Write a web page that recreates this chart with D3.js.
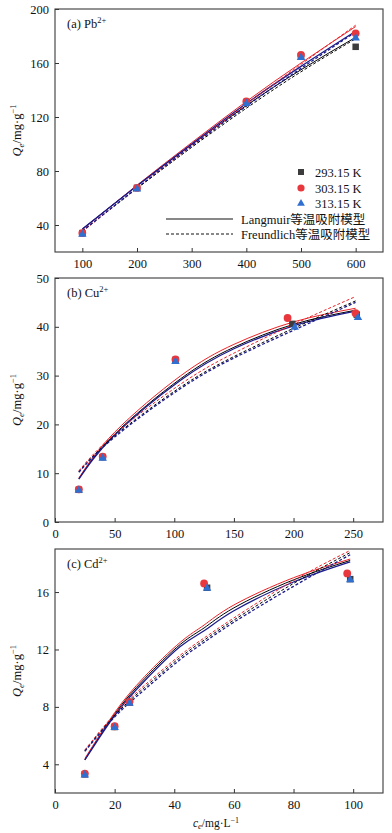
<!DOCTYPE html>
<html><head><meta charset="utf-8">
<script src="https://cdn.jsdelivr.net/npm/d3@7"></script>
<style>body{margin:0;background:#fff}</style>
</head><body><svg id="c" width="392" height="833"></svg>
<script>
// ---------- data ----------
const temps = ["293.15 K", "303.15 K", "313.15 K"];
const modelNames = ["Langmuir等温吸附模型", "Freundlich等温吸附模型"];
const panelLabels = ["(a) Pb", "(b) Cu", "(c) Cd"];

// Pb2+
const pbX = [50, 650], pbY = [20, 200];
const pbTicksX = [100, 200, 300, 400, 500, 600], pbTicksY = [40, 80, 120, 160, 200];
const pb293 = [[100,34],[200,67.5],[400,131],[500,165],[600,172]];
const pb303 = [[100,34],[200,67.5],[400,131.5],[500,166],[600,182]];
const pb313 = [[100,33.5],[200,67],[400,130.5],[500,164.5],[600,179]];
const pbFitX = [100, 200, 300, 400, 500, 600];
const pbL293 = [37, 69, 99.5, 128.5, 155, 179];
const pbL303 = [36.5, 69.5, 101, 131.5, 160, 187];
const pbL313 = [37, 69, 100, 130, 157.5, 183.5];
const pbF293 = [35.5, 67, 97.5, 126.5, 153.5, 178];
const pbF303 = [35, 67.5, 99, 129.5, 159, 188];
const pbF313 = [35.5, 67.5, 98.5, 128, 156, 183];

// Cu2+
const cuX = [0, 275], cuY = [0, 50];
const cuTicksX = [0, 50, 100, 150, 200, 250], cuTicksY = [0, 10, 20, 30, 40, 50];
const cu293 = [[20,6.6],[40,13.3],[101,33.2],[199,40.6],[253,42.5]];
const cu303 = [[20,6.7],[40,13.4],[101,33.3],[195,41.8],[252,42.8]];
const cu313 = [[20,6.6],[40,13.2],[101,33],[201,40],[254,42]];
const cuFitX = [20, 50, 105, 150, 200, 252];
const cuL293 = [8.9, 18, 29.3, 35.8, 40.5, 43.4];
const cuL303 = [9, 18.4, 29.9, 36.4, 41, 43.8];
const cuL313 = [8.8, 17.8, 29, 35.5, 40.2, 43.2];
const cuF293 = [10.3, 17.6, 27.6, 33.9, 39.7, 45.3];
const cuF303 = [10.5, 18, 28.2, 34.6, 40.5, 46.2];
const cuF313 = [10.2, 17.4, 27.3, 33.6, 39.3, 45];

// Cd2+
const cdX = [0, 110], cdY = [2, 19];
const cdTicksX = [0, 20, 40, 60, 80, 100], cdTicksY = [4, 8, 12, 16];
const cd293 = [[10,3.3],[20,6.6],[25,8.3],[51,16.3],[99,16.9]];
const cd303 = [[10,3.35],[20,6.65],[25,8.35],[50,16.6],[98,17.3]];
const cd313 = [[10,3.3],[20,6.6],[25,8.3],[51,16.3],[99,16.9]];
const cdFitX = [10, 20, 30, 42, 50, 60, 80, 99];
const cdL293 = [4.3, 7.5, 9.95, 12.35, 13.5, 14.9, 16.85, 18.2];
const cdL303 = [4.4, 7.6, 10.1, 12.5, 13.7, 15.1, 17.0, 18.3];
const cdL313 = [4.3, 7.4, 9.8, 12.2, 13.3, 14.7, 16.7, 18.1];
const cdF293 = [4.95, 7.4, 9.35, 11.45, 12.65, 14.05, 16.6, 18.75];
const cdF303 = [5.0, 7.5, 9.5, 11.6, 12.8, 14.2, 16.8, 18.9];
const cdF313 = [4.9, 7.3, 9.2, 11.3, 12.5, 13.9, 16.4, 18.6];

// ---------- styles ----------
const markerColors = ["#3c3c3c", "#e8383d", "#2f6fd0"];
const lineColors = ["#000000", "#ec2227", "#1b1b8c"];
const lineWidths = [1, 1, 1.3];
const serif = "'Liberation Serif','Times New Roman','Noto Sans CJK SC',serif";

const svg = d3.select("#c");
const L = 55, R = 383;

const panels = [
  {xd:pbX, yd:pbY, tx:pbTicksX, ty:pbTicksY, top:9, bottom:252,
   pts:[pb293,pb303,pb313], fx:pbFitX, Ls:[pbL293,pbL303,pbL313], Fs:[pbF293,pbF303,pbF313], label:panelLabels[0]},
  {xd:cuX, yd:cuY, tx:cuTicksX, ty:cuTicksY, top:278, bottom:522,
   pts:[cu293,cu303,cu313], fx:cuFitX, Ls:[cuL293,cuL303,cuL313], Fs:[cuF293,cuF303,cuF313], label:panelLabels[1]},
  {xd:cdX, yd:cdY, tx:cdTicksX, ty:cdTicksY, top:549, bottom:793,
   pts:[cd293,cd303,cd313], fx:cdFitX, Ls:[cdL293,cdL303,cdL313], Fs:[cdF293,cdF303,cdF313], label:panelLabels[2]}
];

function marker(g, type, x, y, color, s) {
  if (type === 0) {
    g.append("rect").attr("x", x - s/2).attr("y", y - s/2).attr("width", s).attr("height", s).attr("fill", color);
  } else if (type === 1) {
    g.append("circle").attr("cx", x).attr("cy", y).attr("r", s*0.6).attr("fill", color);
  } else {
    const h = s*1.05;
    g.append("path").attr("d", `M${x},${y - h*0.62}L${x + h*0.62},${y + h*0.45}L${x - h*0.62},${y + h*0.45}Z`).attr("fill", color);
  }
}

panels.forEach((p, pi) => {
  const x = d3.scaleLinear().domain(p.xd).range([L, R]);
  const y = d3.scaleLinear().domain(p.yd).range([p.bottom, p.top]);
  const g = svg.append("g");

  // axes
  const xa = g.append("g").attr("transform", `translate(0,${p.bottom})`)
    .call(d3.axisBottom(x).tickValues(p.tx).tickSizeInner(-4).tickSizeOuter(0).tickPadding(7).tickFormat(d3.format("d")));
  const ya = g.append("g").attr("transform", `translate(${L},0)`)
    .call(d3.axisLeft(y).tickValues(p.ty).tickSizeInner(-4).tickSizeOuter(0).tickPadding(6).tickFormat(d3.format("d")));
  [xa, ya].forEach(a => {
    a.select(".domain").remove();
    a.selectAll("line").attr("stroke", "#333");
    a.selectAll("text").attr("font-family", serif).attr("font-size", 12.5).attr("fill", "#111");
  });
  xa.selectAll("text").attr("dy", "0.71em");

  // frame
  g.append("rect").attr("x", L).attr("y", p.top).attr("width", R - L).attr("height", p.bottom - p.top)
    .attr("fill", "none").attr("stroke", "#3a3a3a").attr("stroke-width", 1.1);

  // fits
  const line = d3.line().x(d => x(d[0])).y(d => y(d[1])).curve(d3.curveNatural);
  [0, 1].forEach(m => {
    const arrs = m === 0 ? p.Ls : p.Fs;
    arrs.forEach((arr, ti) => {
      const data = p.fx.map((xv, i) => [xv, arr[i]]);
      g.append("path").attr("d", line(data)).attr("fill", "none")
        .attr("stroke", lineColors[ti]).attr("stroke-width", lineWidths[ti])
        .attr("stroke-dasharray", m === 1 ? "3,2" : null);
    });
  });

  // points
  p.pts.forEach((arr, ti) => {
    arr.forEach(d => marker(g, ti, x(d[0]), y(d[1]), markerColors[ti], 6.5));
  });

  // panel label
  const t = g.append("text").attr("x", 67).attr("y", p.top + 19).attr("font-family", serif).attr("font-size", 12.5).attr("fill", "#111");
  t.append("tspan").text(p.label);
  t.append("tspan").attr("dy", -5).attr("font-size", 8.5).text("2+");

  // y-axis label
  const cy = (p.top + p.bottom) / 2;
  const yl = g.append("text").attr("transform", `translate(21,${cy}) rotate(-90)`).attr("text-anchor", "middle")
    .attr("font-family", serif).attr("font-size", 12.5).attr("fill", "#111");
  yl.append("tspan").attr("font-style", "italic").text("Q");
  yl.append("tspan").attr("font-style", "italic").attr("font-size", 9).attr("dy", 3).text("e");
  yl.append("tspan").attr("dy", -3).text("/mg·g");
  yl.append("tspan").attr("dy", -5).attr("font-size", 8.5).text("−1");

  // legend in panel a
  if (pi === 0) {
    const lg = svg.append("g");
    const rows = [172, 188, 203];
    temps.forEach((tt, ti) => {
      marker(lg, ti, 301, rows[ti], markerColors[ti], 6);
      lg.append("text").attr("x", 315).attr("y", rows[ti] + 4.5).attr("font-family", serif).attr("font-size", 12.5).attr("fill", "#111").text(tt);
    });
    const ly = [219, 234];
    modelNames.forEach((mn, mi) => {
      lg.append("line").attr("x1", 166).attr("x2", 233).attr("y1", ly[mi]).attr("y2", ly[mi])
        .attr("stroke", "#111").attr("stroke-width", 1).attr("stroke-dasharray", mi === 1 ? "3,2" : null);
      lg.append("text").attr("x", 241).attr("y", ly[mi] + 4.5).attr("font-family", serif).attr("font-size", 12.5).attr("fill", "#111").text(mn);
    });
  }

  // x label
  if (pi === 2) {
    const xl = svg.append("text").attr("x", 216).attr("y", 827).attr("text-anchor", "middle")
      .attr("font-family", serif).attr("font-size", 11.5).attr("fill", "#111");
    xl.append("tspan").attr("font-style", "italic").text("c");
    xl.append("tspan").attr("font-style", "italic").attr("font-size", 8.5).attr("dy", 2).text("e");
    xl.append("tspan").attr("dy", -2).text("/mg·L");
    xl.append("tspan").attr("dy", -4).attr("font-size", 8).text("−1");
  }
});
</script>
</body></html>
